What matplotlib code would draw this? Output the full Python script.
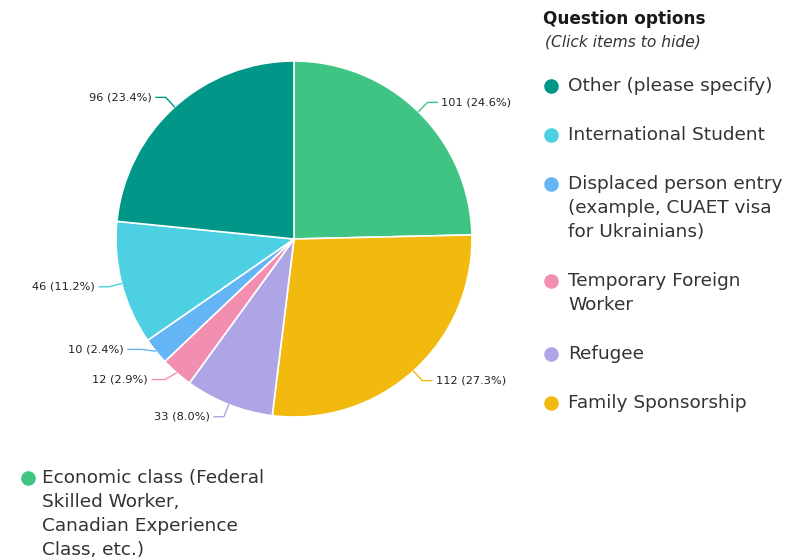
import numpy as np
import matplotlib
matplotlib.use("Agg")
import matplotlib.pyplot as plt

# ---- data ----
categories = [
    "Economic class (Federal\nSkilled Worker,\nCanadian Experience\nClass, etc.)",
    "Family Sponsorship",
    "Refugee",
    "Temporary Foreign\nWorker",
    "Displaced person entry\n(example, CUAET visa\nfor Ukrainians)",
    "International Student",
    "Other (please specify)",
]
values = [101, 112, 33, 12, 10, 46, 96]
colors = ["#40c483", "#f2b90f", "#ada5e6", "#f28fb1", "#64b5f6", "#4dd0e1", "#009688"]
legend_order = [6, 5, 4, 3, 2, 1]  # right column, top to bottom; index 0 wraps below
# small label nudges (px, image coords) to avoid overlap, like the original
label_nudge = {3: (-6, -3), 4: (-8, -10)}

W, H = 803, 560
fig = plt.figure(figsize=(W / 100, H / 100), dpi=100)
ax = fig.add_axes([0, 0, 1, 1])

FONT = "DejaVu Sans"
TXT = "#333333"

cx, cy, R = 294, H - 239, 178
wedges, _ = ax.pie(values, colors=colors, startangle=90, counterclock=False,
                   center=(cx, cy), radius=R,
                   wedgeprops=dict(edgecolor="white", linewidth=1.2))

total = sum(values)
for i, (w, v, c) in enumerate(zip(wedges, values, colors)):
    ang = np.deg2rad((w.theta1 + w.theta2) / 2)
    ca, sa = np.cos(ang), np.sin(ang)
    side = 1 if ca >= 0 else -1
    ndx, ndy = label_nudge.get(i, (0, 0))
    p0 = (cx + R * ca, cy + R * sa)
    p1 = (cx + (R + 13) * ca + ndx * 0.5, cy + (R + 13) * sa - ndy)
    p2 = (p1[0] + side * 10 + ndx * 0.5, p1[1])
    ax.plot([p0[0], p1[0], p2[0]], [p0[1], p1[1], p2[1]], color=c, lw=1,
            solid_capstyle="round")
    ax.text(p2[0] + side * 4, p2[1], f"{v} ({v / total * 100:.1f}%)",
            ha="left" if side > 0 else "right", va="center",
            fontsize=8.2, color="#222222", family=FONT)

# ---- legend ----
ax.text(543, H - 19, "Question options", fontsize=12.2, fontweight="bold",
        color="#1a1a1a", family=FONT, va="center", ha="left")
ax.text(545, H - 42, "(Click items to hide)", fontsize=11.2, fontstyle="italic",
        color=TXT, family=FONT, va="center", ha="left")

LH = 24
MS = 110
FS = 13.3
y = 86
for i in legend_order:
    lines = categories[i].split("\n")
    ax.scatter([551], [H - y], s=MS, color=colors[i], zorder=3, linewidths=0)
    for k, ln in enumerate(lines):
        ax.text(568, H - (y + k * LH), ln, fontsize=FS, color=TXT,
                family=FONT, va="center", ha="left")
    y += (len(lines) - 1) * LH + 49

lines = categories[0].split("\n")
ax.scatter([28], [H - 478], s=MS, color=colors[0], zorder=3, linewidths=0)
for k, ln in enumerate(lines):
    ax.text(42, H - (478 + k * LH), ln, fontsize=FS, color=TXT,
            family=FONT, va="center", ha="left")

ax.set_xlim(0, W)
ax.set_ylim(0, H)
ax.set_aspect("auto")
ax.axis("off")
fig.savefig("out.png", dpi=100)
